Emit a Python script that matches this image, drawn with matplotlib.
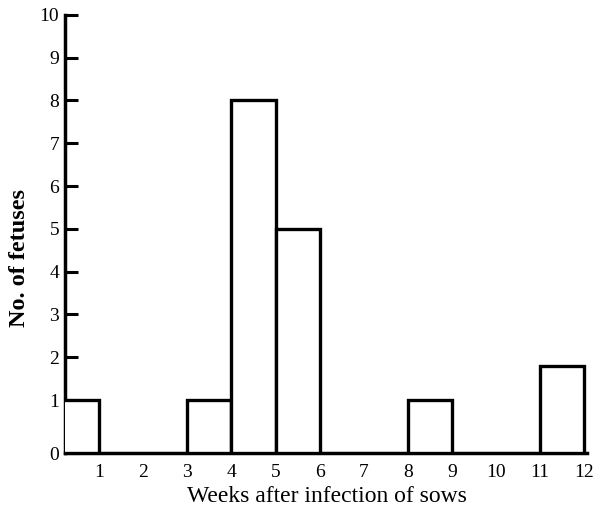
import numpy as np
import matplotlib
matplotlib.use("Agg")
import matplotlib.pyplot as plt

# Data
bin_left = [0, 3, 4, 5, 8, 11]
bin_width = [1, 1, 1, 1, 1, 1]
counts = [1, 1, 8, 5, 1, 1.8]
x_ticks = [1, 2, 3, 4, 5, 6, 7, 8, 9, 10, 11, 12]
y_ticks = [0, 1, 2, 3, 4, 5, 6, 7, 8, 9, 10]

plt.rcParams['font.family'] = ['Liberation Serif', 'DejaVu Serif']

fig = plt.figure(figsize=(5.95, 5.12), dpi=100)
ax = fig.add_axes([0.109, 0.115, 0.878, 0.856])

# hand-drawn axis: gap between 0 and 1 is wider than the other units
k = 1.24
def fwd(y):
    y = np.asarray(y, dtype=float)
    return np.where(y < 1, y * k, y + (k - 1))
def inv(t):
    t = np.asarray(t, dtype=float)
    return np.where(t < k, t / k, t - (k - 1))
ax.set_yscale('function', functions=(fwd, inv))

ax.bar(bin_left, counts, width=bin_width, align='edge', facecolor='white',
       edgecolor='black', linewidth=2.4, zorder=3)

ax.set_xlim(0.22, 12.07)
ax.set_ylim(0, 10)
ax.set_xticks(x_ticks)
ax.set_yticks(y_ticks)
ax.tick_params(axis='x', length=0, pad=8, labelsize=14)
ax.tick_params(axis='y', direction='in', length=9, width=2.2, pad=4, labelsize=14)

for s in ['top', 'right']:
    ax.spines[s].set_visible(False)
for s in ['left', 'bottom']:
    ax.spines[s].set_linewidth(2.5)

ax.set_xlabel('Weeks after infection of sows', fontsize=17)
ax.set_ylabel('No. of fetuses', fontsize=17.5, fontweight='bold')
ax.xaxis.set_label_coords(0.502, -0.10)
ax.yaxis.set_label_coords(-0.086, 0.445)
ax.xaxis.label.set_verticalalignment('center')
ax.yaxis.label.set_verticalalignment('center')

fig.savefig('out.png', dpi=100)
